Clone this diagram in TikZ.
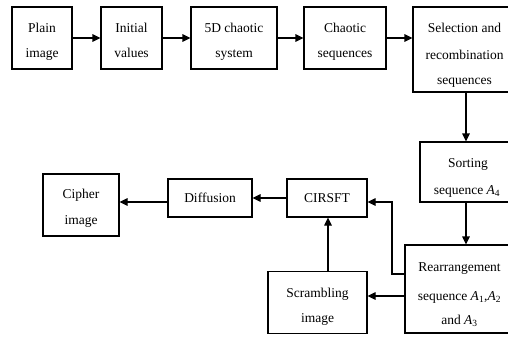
\documentclass[tikz,border=0pt]{standalone}
\usepackage{fontspec}
\setmainfont{Liberation Serif}
\usetikzlibrary{arrows.meta}
\newcommand{\Asub}[1]{\textit{A}\textsubscript{#1}}
\begin{document}
\begin{tikzpicture}[x=1pt,y=-1pt,
  box/.style={draw, line width=1.1pt, inner sep=0pt},
  txt/.style={anchor=base, inner sep=0pt, font=\fontsize{13.5}{16}\selectfont},
  arr/.style={line width=1.1pt, -{Triangle[length=8pt,width=7.5pt]}}]
\useasboundingbox (0,0) rectangle (508,337);
% boxes
\node[box, minimum width=60pt, minimum height=62pt] (plain) at (42,38) {};
\node[box, minimum width=61pt, minimum height=62pt] (init) at (131.5,38) {};
\node[box, minimum width=86pt, minimum height=62pt] (fived) at (234,38) {};
\node[box, minimum width=82pt, minimum height=62pt] (chaos) at (345,38) {};
\node[box, minimum width=100pt, minimum height=85pt] (select) at (463,49.5) {};
\node[box, minimum width=90pt, minimum height=60pt] (sort) at (465,172) {};
\node[box, minimum width=108pt, minimum height=88pt] (rear) at (459,289) {};
\node[box, minimum width=80pt, minimum height=38pt] (cirsft) at (327,198) {};
\node[box, minimum width=99pt, minimum height=62pt] (scram) at (317.5,302.5) {};
\node[box, minimum width=84pt, minimum height=38pt] (diff) at (210,198) {};
\node[box, minimum width=76pt, minimum height=62pt] (cipher) at (81,205) {};
% texts
\node[txt] (plain1) at (42,32.5) {Plain};
\node[txt] (plain2) at (42,57.5) {image};
\node[txt] (init1) at (131.5,32.5) {Initial};
\node[txt] (init2) at (131.5,57.5) {values};
\node[txt] (fived1) at (234,32.5) {5D chaotic};
\node[txt] (fived2) at (234,57.5) {system};
\node[txt] (chaos1) at (345,32.5) {Chaotic};
\node[txt] (chaos2) at (345,57.5) {sequences};
\node[txt] (sel1) at (464.5,32.5) {Selection and};
\node[txt] (sel2) at (464.5,59.5) {recombination};
\node[txt] (sel3) at (464.5,84.5) {sequences};
\node[txt] (sort1) at (468,167.5) {Sorting};
\node[txt] (sort2) at (467,194.5) {sequence \Asub{4}};
\node[txt] (rear1) at (459.5,271.5) {Rearrangement};
\node[txt] (rear2) at (459.5,300.5) {sequence \Asub{1},\Asub{2}};
\node[txt] (rear3) at (459.5,324.5) {and \Asub{3}};
\node[txt] (cirsftt) at (327,202.5) {CIRSFT};
\node[txt] (scram1) at (317.5,297.5) {Scrambling};
\node[txt] (scram2) at (317.5,322.5) {image};
\node[txt] (difft) at (210,202.5) {Diffusion};
\node[txt] (ciph1) at (81,198.5) {Cipher};
\node[txt] (ciph2) at (81,224.5) {image};
% connectors
\coordinate (c1) at (466,0);
\coordinate (c2) at (392,0);
\coordinate (c3) at (328,0);
\draw[arr] (plain) -- (init);
\draw[arr] (init) -- (fived);
\draw[arr] (fived) -- (chaos);
\draw[arr] (chaos.east) -- (chaos.east -| select.west);
\draw[arr] (select.south -| c1) -- (sort.north -| c1);
\draw[arr] (sort.south -| c1) -- (rear.north -| c1);
\draw[arr] (rear.west |- 0,296) -- (scram.east |- 0,296);
\draw[arr] (rear.west |- 0,274) -- (c2 |- 0,274) -- (c2 |- 0,202) -- (cirsft.east |- 0,202);
\draw[arr] (scram.north -| c3) -- (cirsft.south -| c3);
\draw[arr] (cirsft) -- (diff);
\draw[arr] (diff.west |- 0,202) -- (cipher.east |- 0,202);
\end{tikzpicture}
\end{document}
